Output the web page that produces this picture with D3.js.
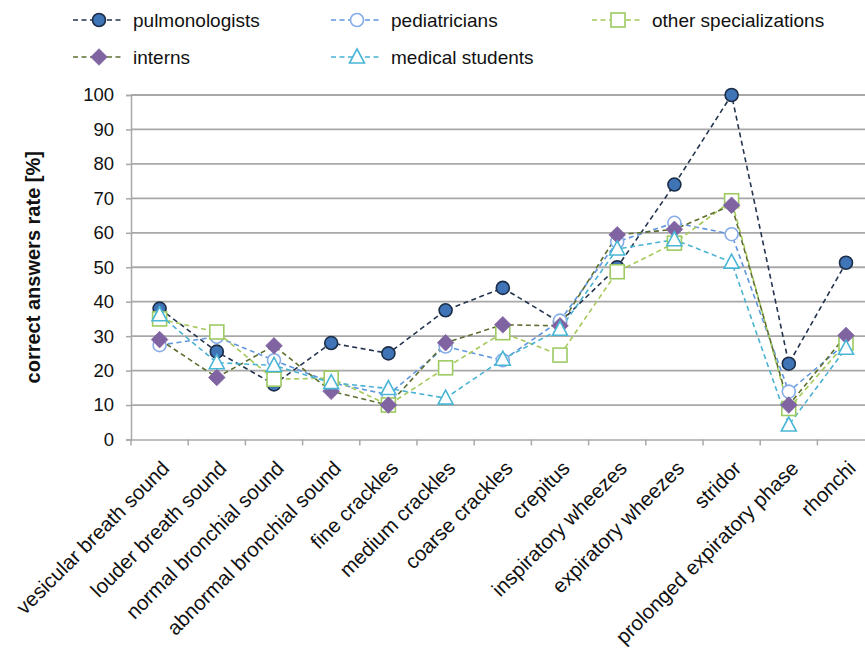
<!DOCTYPE html>
<html>
<head>
<meta charset="utf-8">
<script src="https://cdn.jsdelivr.net/npm/d3@7"></script>
<style>
  body { margin: 0; background: #fff; }
  svg { font-family: "Liberation Sans", Arial, sans-serif; display: block; }
</style>
</head>
<body>
<div id="chart-area"></div>
<script>
// data
var categories = ["vesicular breath sound", "louder breath sound", "normal bronchial sound",
  "abnormal bronchial sound", "fine crackles", "medium crackles", "coarse crackles", "crepitus",
  "inspiratory wheezes", "expiratory wheezes", "stridor", "prolonged expiratory phase", "rhonchi"];

var pulmonologists = [38, 25.5, 16, 28, 25, 37.5, 44, 34, 50, 74, 100, 22, 51.3];
var pediatricians = [27.4, 29.8, 23, 16.5, 13, 27, 23, 34.5, 57.4, 62.9, 59.6, 13.9, 28];
var otherSpecs = [35, 31.2, 17.5, 17.8, 10, 20.8, 31, 24.5, 48.7, 57, 69.3, 9, 28];
var interns = [29, 18, 27.2, 14, 10, 28.1, 33.3, 33, 59.4, 61, 68, 10, 30.2];
var medStudents = [36.2, 22.3, 21.5, 16.5, 14.8, 12, 23.3, 32, 55.3, 58, 51.5, 4.2, 26.5];

var yTicks = [0, 10, 20, 30, 40, 50, 60, 70, 80, 90, 100];

var series = [
  {name: "pulmonologists", values: pulmonologists, line: "#23344f", marker: "circle", fill: "#3f74b6", stroke: "#1c2d47"},
  {name: "pediatricians", values: pediatricians, line: "#5f96de", marker: "circle", fill: "#fff", stroke: "#86ade8"},
  {name: "other specializations", values: otherSpecs, line: "#a5c95a", marker: "square", fill: "#fff", stroke: "#9dcb62"},
  {name: "interns", values: interns, line: "#5d6f30", marker: "diamond", fill: "#8064a2", stroke: "#8064a2"},
  {name: "medical students", values: medStudents, line: "#4ab2d3", marker: "triangle", fill: "#fff", stroke: "#4ab6d6"}
];

var W = 865, H = 648;
var plotLeft = 131, plotBottom = 439.5, plotTop = 95;
var band = 57.2;

var svg = d3.select("#chart-area").append("svg")
    .attr("width", W)
    .attr("height", H);

var x = d3.scaleBand()
    .domain(categories)
    .range([plotLeft, plotLeft + band * categories.length]);

var y = d3.scaleLinear()
    .domain([0, 100])
    .range([plotBottom, plotTop]);

// grid
svg.append("g").selectAll("line")
    .data(yTicks.filter(d => d > 0))
    .enter().append("line")
    .attr("x1", plotLeft).attr("x2", W)
    .attr("y1", d => y(d)).attr("y2", d => y(d))
    .attr("stroke", "#a8a8a8")
    .attr("stroke-width", 1.8);

// y axis
var yAxis = d3.axisLeft(y).tickValues(yTicks).tickSize(5).tickPadding(12);
var yg = svg.append("g").attr("transform", "translate(" + plotLeft + ",0)").call(yAxis);
yg.select(".domain").attr("stroke", "#a8a8a8").attr("stroke-width", 1.5);
yg.selectAll(".tick line").attr("stroke", "#a8a8a8").attr("stroke-width", 1.5);
yg.selectAll("text").attr("font-size", 18.5).attr("fill", "#111")
    .attr("font-family", "Liberation Sans, Arial, sans-serif");

// x axis
var xAxis = d3.axisBottom(x).tickSize(0).tickFormat("");
var xg = svg.append("g").attr("transform", "translate(0," + plotBottom + ")").call(xAxis);
xg.select(".domain").attr("stroke", "#a8a8a8").attr("stroke-width", 1.5);
xg.selectAll(".bnd")
    .data(categories.concat([null]))
    .enter().append("line")
    .attr("x1", (d, i) => plotLeft + i * x.step())
    .attr("x2", (d, i) => plotLeft + i * x.step())
    .attr("y1", 0).attr("y2", 6)
    .attr("stroke", "#a8a8a8").attr("stroke-width", 1.5);

svg.append("g").selectAll("text")
    .data(categories)
    .enter().append("text")
    .attr("transform", d => "translate(" + (x(d) + x.bandwidth() / 2 + 6) + "," + (plotBottom + 25) + ") rotate(-45)")
    .attr("text-anchor", "end")
    .attr("dy", "0.35em")
    .attr("font-size", 20.5)
    .attr("fill", "#111")
    .text(d => d);

// y title
svg.append("text")
    .attr("transform", "translate(40," + ((plotTop + plotBottom) / 2) + ") rotate(-90)")
    .attr("text-anchor", "middle")
    .attr("font-size", 20)
    .attr("font-weight", "bold")
    .attr("fill", "#111")
    .text("correct answers rate [%]");

function drawMarker(g, s) {
  var m;
  if (s.marker === "circle") {
    m = g.append("circle").attr("r", 6.5);
  } else if (s.marker === "square") {
    m = g.append("rect").attr("x", -7).attr("y", -7).attr("width", 14).attr("height", 14);
  } else if (s.marker === "diamond") {
    m = g.append("path").attr("d", "M0,-8.3L8.3,0L0,8.3L-8.3,0Z");
  } else {
    m = g.append("path").attr("d", "M0,-8L7.5,6L-7.5,6Z");
  }
  m.attr("fill", s.fill).attr("stroke", s.stroke).attr("stroke-width", s.marker === "diamond" ? 0.8 : 1.6);
}

var line = d3.line()
    .x((d, i) => x(categories[i]) + x.bandwidth() / 2)
    .y(d => y(d));

var plot = svg.append("g");
series.forEach(function(s) {
  plot.append("path")
      .attr("d", line(s.values))
      .attr("fill", "none")
      .attr("stroke", s.line)
      .attr("stroke-width", 1.6)
      .attr("stroke-dasharray", "5,3.5");
});
series.forEach(function(s) {
  s.values.forEach(function(v, i) {
    var g = plot.append("g")
        .attr("transform", "translate(" + (x(categories[i]) + x.bandwidth() / 2) + "," + y(v) + ")");
    drawMarker(g, s);
  });
});

// legend
var legendPos = [[73, 20], [331, 20], [592, 20], [73, 57], [331, 57]];
series.forEach(function(s, i) {
  var lg = svg.append("g").attr("transform", "translate(" + legendPos[i][0] + "," + legendPos[i][1] + ")");
  lg.append("line").attr("x1", 0).attr("x2", 50).attr("y1", 0).attr("y2", 0)
      .attr("stroke", s.line).attr("stroke-width", 1.6).attr("stroke-dasharray", "5,3.5");
  var mg = lg.append("g").attr("transform", "translate(26,0)");
  drawMarker(mg, s);
  lg.append("text").attr("x", 60).attr("dy", "0.35em")
      .attr("font-size", 19).attr("fill", "#111").text(s.name);
});
</script>
</body>
</html>
